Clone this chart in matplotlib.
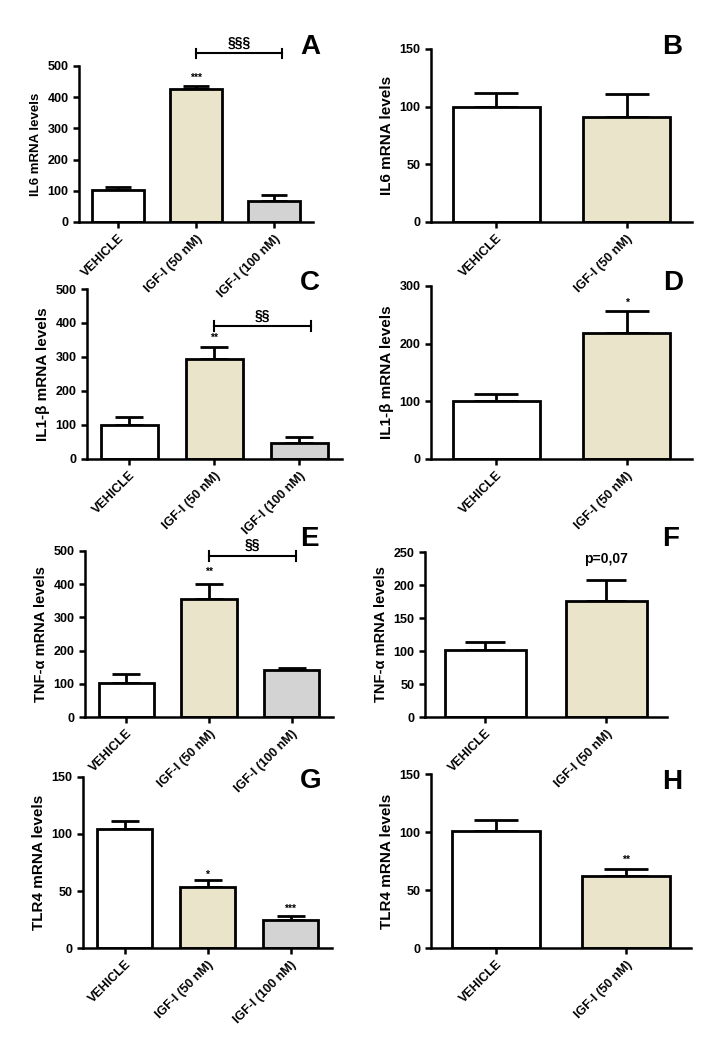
import matplotlib.pyplot as plt

plt.rcParams['font.family'] = ['Liberation Sans Narrow', 'Liberation Sans', 'DejaVu Sans']
plt.rcParams['font.weight'] = 'bold'

groups3 = ['VEHICLE', 'IGF-I (50 nM)', 'IGF-I (100 nM)']
groups2 = ['VEHICLE', 'IGF-I (50 nM)']
bar_colors = ['white', '#EAE4CA', '#D3D3D3']

# panel values (mean, sem)
il6_a_mean = [103, 426, 66]
il6_a_sem = [8, 9, 21]
il6_b_mean = [100, 91]
il6_b_sem = [12, 20]
il1b_c_mean = [100, 294, 47]
il1b_c_sem = [22, 34, 18]
il1b_d_mean = [100, 219]
il1b_d_sem = [12, 37]
tnf_e_mean = [102, 355, 142]
tnf_e_sem = [27, 46, 6]
tnf_f_mean = [101, 176]
tnf_f_sem = [12, 31]
tlr4_g_mean = [104, 53.5, 24.3]
tlr4_g_sem = [7, 6, 4]
tlr4_h_mean = [101, 62]
tlr4_h_sem = [9, 6]

fig = plt.figure(figsize=(7.23, 10.59), dpi=100)


def bar_panel(rect, labels, means, sems, ylabel, ymax, step, ylsize=9.5):
    ax = fig.add_axes(rect)
    ax.patch.set_visible(False)
    n = len(means)
    x = list(range(n))
    ax.bar(x, means, width=0.67, color=bar_colors[:n], edgecolor='black',
           linewidth=2, zorder=2)
    # cap = half the bar width
    w_px = rect[2] * 723 / n * 0.67
    ax.errorbar(x, means, yerr=[[0] * n, sems], fmt='none', ecolor='black',
                elinewidth=2, capthick=2, capsize=w_px * 0.25 * 0.72, zorder=1)
    ax.set_xlim(-0.5, n - 0.5)
    ax.set_ylim(0, ymax)
    ax.set_yticks(range(0, ymax + 1, step))
    ax.set_xticks(x)
    ax.set_xticklabels(labels, rotation=45, ha='right', rotation_mode='anchor',
                       fontsize=8.5, fontweight='heavy')
    ax.set_ylabel(ylabel, fontsize=ylsize, fontweight='bold')
    ax.spines['top'].set_visible(False)
    ax.spines['right'].set_visible(False)
    ax.spines['left'].set_linewidth(1.8)
    ax.spines['bottom'].set_linewidth(1.8)
    ax.tick_params(width=1.8, length=4, labelsize=9)
    for t in ax.get_yticklabels():
        t.set_fontweight('heavy')
    return ax


def bracket(ax, x0, x1, y, label, ty):
    ax.plot([x0, x1], [y, y], color='black', lw=1.5, clip_on=False)
    h = ax.get_ylim()[1] * 0.03
    ax.plot([x0, x0], [y - h, y + h], color='black', lw=1.5, clip_on=False)
    ax.plot([x1, x1], [y - h, y + h], color='black', lw=1.5, clip_on=False)
    ax.text((x0 + x1) / 2, ty, label, ha='center', va='center', fontsize=10,
            fontweight='bold')


def star(ax, x, y, label, size=7.5):
    ax.text(x, y, label, ha='center', va='center', fontsize=size, fontweight='bold')


axA = bar_panel([0.1093, 0.7904, 0.3237, 0.1473], groups3, il6_a_mean, il6_a_sem,
                'IL6 mRNA levels', 500, 100)
bracket(axA, 1.0, 2.1, 541, '§§§', 575)
star(axA, 1, 462, '***')

axB = bar_panel([0.5961, 0.7904, 0.361, 0.1634], groups2, il6_b_mean, il6_b_sem,
                'IL6 mRNA levels', 150, 50, ylsize=11)

axC = bar_panel([0.1203, 0.5666, 0.3527, 0.1605], groups3, il1b_c_mean, il1b_c_sem,
                'IL1-β mRNA levels', 500, 100, ylsize=11)
bracket(axC, 1.0, 2.13, 391, '§§', 420)
star(axC, 1, 355, '**')

axD = bar_panel([0.5961, 0.5666, 0.361, 0.1634], groups2, il1b_d_mean, il1b_d_sem,
                'IL1-β mRNA levels', 300, 100, ylsize=11)
star(axD, 1, 270, '*')

axE = bar_panel([0.1176, 0.3229, 0.343, 0.1568], groups3, tnf_e_mean, tnf_e_sem,
                'TNF-α mRNA levels', 500, 100, ylsize=10.5)
bracket(axE, 1.0, 2.05, 486, '§§', 520)
star(axE, 1, 436, '**')

axF = bar_panel([0.5878, 0.3229, 0.3347, 0.1558], groups2, tnf_f_mean, tnf_f_sem,
                'TNF-α mRNA levels', 250, 50, ylsize=10.5)
star(axF, 1, 239, 'p=0,07', size=10)

axG = bar_panel([0.1148, 0.1048, 0.3444, 0.1615], groups3, tlr4_g_mean, tlr4_g_sem,
                'TLR4 mRNA levels', 150, 50, ylsize=11)
star(axG, 1, 64, '*')
star(axG, 2, 34, '***')

axH = bar_panel([0.5961, 0.1048, 0.3596, 0.1643], groups2, tlr4_h_mean, tlr4_h_sem,
                'TLR4 mRNA levels', 150, 50, ylsize=11)
star(axH, 1, 76, '**')

letters = {'A': (310, 47), 'B': (672, 47), 'C': (310, 283), 'D': (673, 283),
           'E': (309, 539), 'F': (671, 539), 'G': (311, 781), 'H': (672, 782)}
for k, (px, py) in letters.items():
    fig.text(px / 723, 1 - py / 1059, k, ha='center', va='center', fontsize=20,
             fontweight='bold', family=['Liberation Sans', 'DejaVu Sans'])

fig.savefig('out.png', dpi=100)
